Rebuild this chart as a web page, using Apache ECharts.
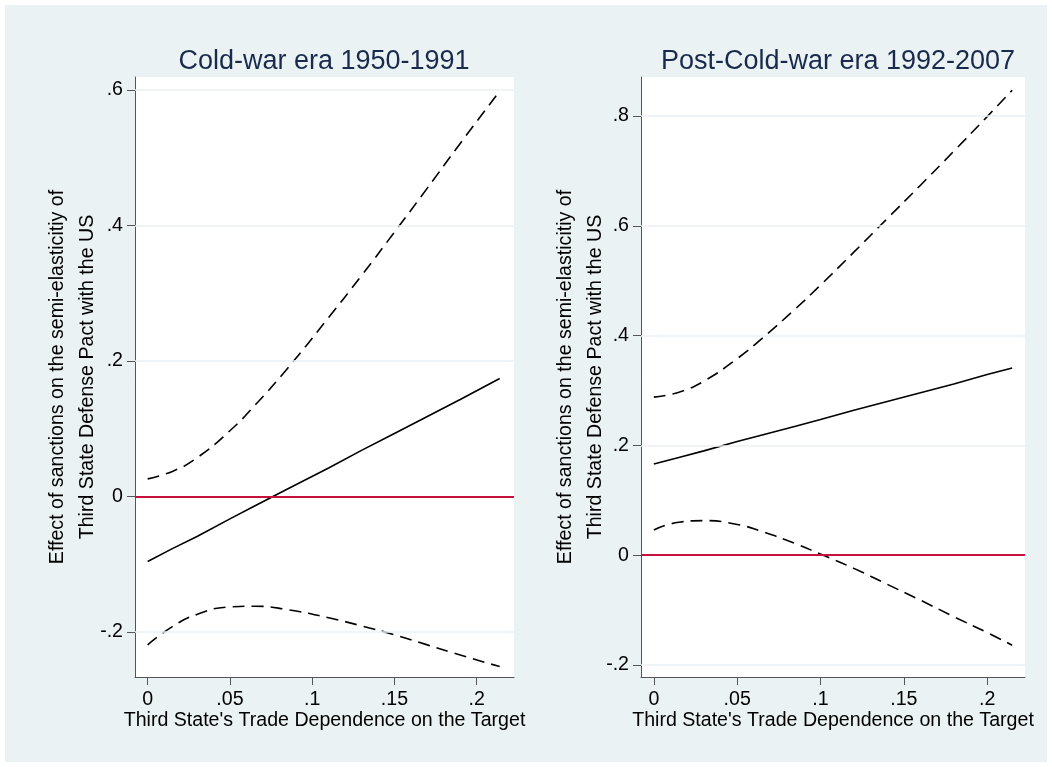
<!DOCTYPE html>
<html><head><meta charset="utf-8">
<script src="https://cdn.jsdelivr.net/npm/echarts@6/dist/echarts.min.js"></script>
<style>html,body{margin:0;padding:0;background:#fff}#c{width:1052px;height:767px}</style>
</head><body><div id="c"></div>
<script>
// ---- data ----
const xCold   = [0, 0.015, 0.03, 0.05, 0.065, 0.085, 0.11, 0.13, 0.15, 0.17, 0.19, 0.214];
const fitCold = [-0.096, -0.077, -0.059, -0.033, -0.014, 0.011, 0.042, 0.068, 0.093, 0.118, 0.143, 0.174];
const lowCold = [-0.219, -0.192, -0.174, -0.163, -0.162, -0.167, -0.179, -0.191, -0.204, -0.219, -0.234, -0.251];
const upCold  = [0.026, 0.037, 0.057, 0.097, 0.134, 0.189, 0.264, 0.326, 0.390, 0.455, 0.521, 0.598];

const xPost   = [0, 0.015, 0.03, 0.05, 0.065, 0.085, 0.1, 0.12, 0.14, 0.16, 0.18, 0.2, 0.215];
const fitPost = [0.166, 0.178, 0.190, 0.207, 0.219, 0.235, 0.247, 0.264, 0.280, 0.296, 0.312, 0.329, 0.341];
const lowPost = [0.046, 0.060, 0.063, 0.056, 0.043, 0.021, 0.002, -0.024, -0.053, -0.082, -0.112, -0.141, -0.164];
const upPost  = [0.288, 0.297, 0.317, 0.358, 0.395, 0.449, 0.492, 0.552, 0.613, 0.674, 0.736, 0.799, 0.847];

const xTicks = [0, 0.05, 0.1, 0.15, 0.2];
const xTickLabels = ['0', '.05', '.1', '.15', '.2'];
const yTicksCold = [-0.2, 0, 0.2, 0.4, 0.6];
const yTickLabelsCold = ['-.2', '0', '.2', '.4', '.6'];
const yTicksPost = [-0.2, 0, 0.2, 0.4, 0.6, 0.8];
const yTickLabelsPost = ['-.2', '0', '.2', '.4', '.6', '.8'];

const titles = ['Cold-war era 1950-1991', 'Post-Cold-war era 1992-2007'];
const xTitle = "Third State's Trade Dependence on the Target";
const yTitle = 'Effect of sanctions on the semi-elasticitiy of\nThird State Defense Pact with the US';

// ---- chart ----
const FONT = '"Liberation Sans", Arial, sans-serif';
const FS = 19.6;
const BG = '#eaf2f3';
const AXC = '#555555';

function lab(ticks, labels) {
  return v => { const i = ticks.findIndex(t => Math.abs(t - v) < 1e-9); return i >= 0 ? labels[i] : ''; };
}
function pairs(xs, ys) { return xs.map((x, i) => [x, ys[i]]); }

const grids = [
  { left: 135, top: 77, width: 379, height: 600 },
  { left: 641, top: 77, width: 384, height: 600 }
];
const titleCenters = [319, 833];
const yNameGaps = [32, 30];
const yRanges = [[-0.2664, 0.619], [-0.2219, 0.8711]];
const yT = [yTicksCold, yTicksPost];
const yL = [yTickLabelsCold, yTickLabelsPost];

const xAxes = grids.map((g, i) => ({
  type: 'value', gridIndex: i, min: -0.0077, max: 0.2227,
  name: xTitle, nameLocation: 'middle', nameGap: 34, nameMoveOverlap: false,
  nameTextStyle: { fontFamily: FONT, fontSize: FS, color: '#000' },
  axisLine: { show: true, onZero: false, lineStyle: { color: AXC, width: 1 } },
  axisTick: { show: true, inside: false, length: 8, customValues: xTicks, lineStyle: { color: AXC } },
  axisLabel: { show: true, margin: 13, customValues: xTicks, formatter: lab(xTicks, xTickLabels),
    fontFamily: FONT, fontSize: FS, color: '#000' },
  splitLine: { show: false }
}));
const yAxes = grids.map((g, i) => ({
  type: 'value', gridIndex: i, min: yRanges[i][0], max: yRanges[i][1],
  name: yTitle, nameLocation: 'middle', nameGap: yNameGaps[i], nameRotate: 90, nameMoveOverlap: false,
  nameTextStyle: { fontFamily: FONT, fontSize: FS, color: '#000', lineHeight: 30, align: 'center' },
  axisLine: { show: true, onZero: false, lineStyle: { color: AXC, width: 1 } },
  axisTick: { show: true, inside: false, length: 8, customValues: yT[i], lineStyle: { color: AXC } },
  axisLabel: { show: true, margin: 12, customValues: yT[i], formatter: lab(yT[i], yL[i]),
    fontFamily: FONT, fontSize: FS, color: '#000' },
  splitLine: { show: false }
}));

const series = [];
const sets = [[xCold, fitCold, lowCold, upCold], [xPost, fitPost, lowPost, upPost]];
sets.forEach((s, i) => {
  // grid lines + reference line at zero
  series.push({
    type: 'line', xAxisIndex: i, yAxisIndex: i, data: [], z: 1, silent: true,
    markLine: {
      silent: true, symbol: 'none', label: { show: false },
      data: yT[i].filter(v => v !== 0).map(v => ({ yAxis: v, lineStyle: { color: BG, width: 1.5, type: 'solid' } }))
        .concat([{ yAxis: 0, lineStyle: { color: '#c8103c', width: 1.8, type: 'solid' } }])
    }
  });
  const [xs, fit, lo, up] = s;
  series.push({ type: 'line', xAxisIndex: i, yAxisIndex: i, data: pairs(xs, fit), smooth: false,
    showSymbol: false, z: 3, lineStyle: { color: '#000', width: 1.6 } });
  [lo, up].forEach(arr => series.push({ type: 'line', xAxisIndex: i, yAxisIndex: i, data: pairs(xs, arr),
    smooth: 0.5, showSymbol: false, z: 3, lineStyle: { color: '#000', width: 1.6, type: [12, 7] } }));
});

const chart = echarts.init(document.getElementById('c'), null, { renderer: 'canvas' });
chart.setOption({
  backgroundColor: '#ffffff',
  animation: false,
  graphic: [{ type: 'rect', shape: { x: 5, y: 5, width: 1042, height: 757 }, style: { fill: BG }, z: -10, silent: true }],
  title: grids.map((g, i) => ({
    text: titles[i], left: titleCenters[i], top: 43, textAlign: 'center',
    textStyle: { fontFamily: FONT, fontSize: 27, fontWeight: 'normal', color: '#1a2a4c' }
  })),
  grid: grids.map(g => Object.assign({ show: true, backgroundColor: '#ffffff', borderWidth: 0, containLabel: false }, g)),
  xAxis: xAxes,
  yAxis: yAxes,
  series: series
});
</script></body></html>
